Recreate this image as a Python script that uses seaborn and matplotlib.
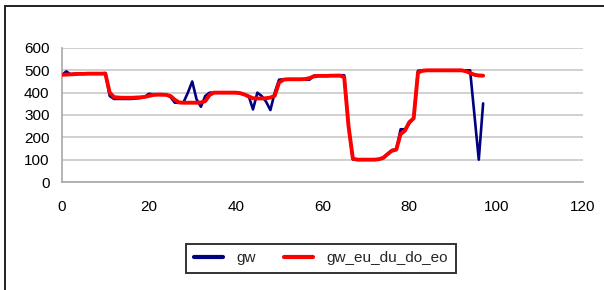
import numpy as np
import pandas as pd
import matplotlib as mpl
from matplotlib import pyplot as plt
import seaborn as sns

# values (index 0..97)
gw = [480, 495, 482, 485, 485, 485, 486, 486, 486, 486,
      488, 385, 372, 372, 372, 372, 372, 374, 376, 380,
      395, 393, 393, 393, 392, 380, 355, 355, 357, 400,
      450, 370, 337, 385, 400, 400, 400, 400, 400, 400,
      400, 398, 392, 385, 325, 400, 385, 360, 322, 400,
      458, 460, 460, 460, 460, 460, 458, 458, 476, 476,
      477, 477, 477, 478, 478, 478, 250, 101, 100, 100,
      100, 100, 100, 102, 110, 125, 143, 145, 236, 236,
      262, 285, 498, 500, 500, 500, 500, 500, 500, 500,
      500, 500, 500, 500, 500, 300, 100, 352]

gw_eu_du_do_eo = [480, 481, 482, 483, 484, 484, 485, 485, 485, 485,
                  485, 400, 380, 378, 377, 377, 377, 378, 379, 381,
                  385, 390, 391, 391, 390, 385, 368, 356, 355, 355,
                  355, 355, 356, 362, 390, 400, 400, 400, 400, 400,
                  400, 398, 392, 383, 375, 374, 374, 375, 378, 386,
                  445, 458, 460, 460, 460, 460, 461, 465, 473, 475,
                  475, 475, 476, 476, 476, 470, 250, 105, 100, 100,
                  100, 100, 100, 102, 108, 125, 140, 145, 215, 230,
                  268, 285, 490, 498, 500, 500, 500, 500, 500, 500,
                  500, 500, 500, 496, 488, 480, 477, 476]

x_vals = list(range(len(gw)))
series_names = ["gw", "gw_eu_du_do_eo"]
x_ticks = [0, 20, 40, 60, 80, 100, 120]
y_ticks = [0, 100, 200, 300, 400, 500, 600]

df = pd.DataFrame({"x": x_vals * 2,
                   "value": gw + gw_eu_du_do_eo,
                   "series": [series_names[0]] * len(gw) + [series_names[1]] * len(gw_eu_du_do_eo)})

sns.set_theme(style="white")
plt.rcParams['font.family'] = ['Liberation Sans', 'DejaVu Sans']

fig = plt.figure(figsize=(6.04, 2.9), dpi=100)
ax = fig.add_axes([0.1026, 0.3724, 0.8626, 0.4621])

# outer chart border (Excel style)
fig.patches.append(mpl.patches.Rectangle((5 / 604, -0.1), 1.2, 1 - 6 / 290 + 0.1,
                                         transform=fig.transFigure, fill=False,
                                         edgecolor="#202020", linewidth=1.4, zorder=0))

sns.lineplot(data=df, x="x", y="value", hue="series", ax=ax,
             palette={"gw": "#000080", "gw_eu_du_do_eo": "#ff0000"},
             legend=False)
lines = ax.get_lines()
lines[0].set_linewidth(1.9)
lines[1].set_linewidth(2.8)
lines[1].set_zorder(3)

ax.set_xlim(0, 120)
ax.set_ylim(0, 600)
ax.set_xticks(x_ticks)
ax.set_yticks(y_ticks)
ax.set_xlabel("")
ax.set_ylabel("")
ax.grid(axis="y", color="#c8c8c8", linewidth=1.2)
ax.set_axisbelow(True)
for s in ["top", "right"]:
    ax.spines[s].set_visible(False)
for s in ["left", "bottom"]:
    ax.spines[s].set_color("#a8a8a8")
    ax.spines[s].set_linewidth(1.2)
ax.tick_params(axis="both", which="both", width=1, color="#a8a8a8",
               labelsize=11, labelcolor="black")
ax.tick_params(axis="x", direction="inout", length=6, pad=10)
ax.tick_params(axis="y", direction="out", length=5, pad=4)

handles = [mpl.lines.Line2D([], [], color="#000080", linewidth=3),
           mpl.lines.Line2D([], [], color="#ff0000", linewidth=3)]
leg = fig.legend(handles, series_names, loc="upper center", ncol=2,
                 bbox_to_anchor=(321 / 604, 1 - 236 / 290), frameon=True,
                 fancybox=False, shadow=False, fontsize=11, handlelength=1.9,
                 handletextpad=0.9, columnspacing=1.8, borderpad=0.5)
leg.get_frame().set_edgecolor("black")
leg.get_frame().set_linewidth(1.4)

fig.savefig("out.png", dpi=100)
